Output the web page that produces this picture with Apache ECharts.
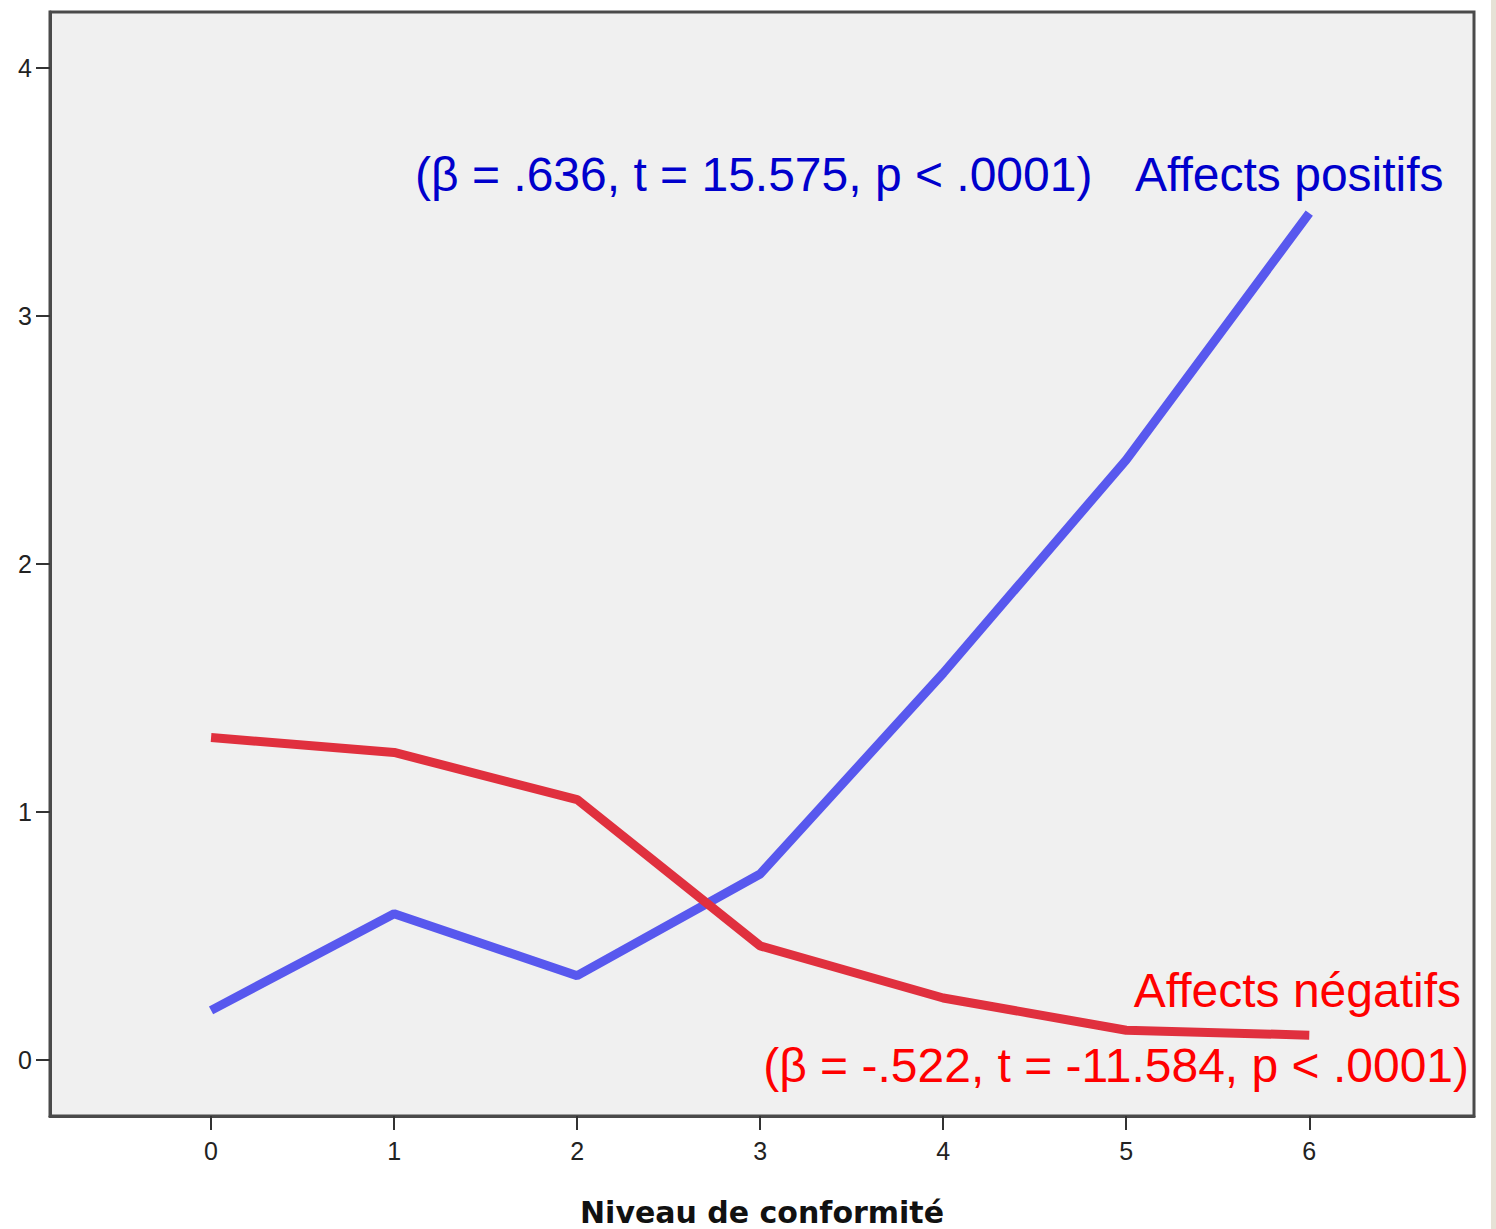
<!DOCTYPE html>
<html>
<head>
<meta charset="utf-8">
<script src="https://cdn.jsdelivr.net/npm/echarts@6/dist/echarts.min.js"></script>
<style>
html,body{margin:0;padding:0;background:#fff;}
#c{width:1496px;height:1229px;}
</style>
</head>
<body>
<div id="c"></div>
<script>
const xValues = [0, 1, 2, 3, 4, 5, 6];
const positifs = [0.20, 0.59, 0.34, 0.75, 1.56, 2.42, 3.415];
const negatifs = [1.30, 1.24, 1.05, 0.46, 0.25, 0.12, 0.10];
const xTicks = [0, 1, 2, 3, 4, 5, 6];
const yTicks = [0, 1, 2, 3, 4];

const chart = echarts.init(document.getElementById('c'), null, {renderer: 'svg'});
const font = '"Liberation Sans", Arial, sans-serif';
chart.setOption({
  animation: false,
  grid: {left: 50, right: 22, top: 12, bottom: 113, outerBoundsMode: 'none', containLabel: false,
         show: true, backgroundColor: '#f0f0f0', borderColor: '#4a4a4a', borderWidth: 3},
  xAxis: {
    type: 'value', min: -0.88, max: 6.9,
    name: 'Niveau de conformité', nameLocation: 'middle', nameGap: 81,
    nameTextStyle: {fontFamily: '"DejaVu Sans", sans-serif', fontWeight: 'bold', fontSize: 30, color: '#111'},
    axisLine: {show: true, onZero: false, lineStyle: {color: '#4a4a4a', width: 3}},
    axisTick: {show: true, length: 14, customValues: xTicks, lineStyle: {color: '#333', width: 2}},
    axisLabel: {customValues: xTicks, fontFamily: font, fontSize: 25, color: '#222', margin: 22},
    splitLine: {show: false}
  },
  yAxis: {
    type: 'value', min: -0.226, max: 4.226,
    axisLine: {show: true, onZero: false, lineStyle: {color: '#4a4a4a', width: 3}},
    axisTick: {show: true, length: 14, customValues: yTicks, lineStyle: {color: '#333', width: 2}},
    axisLabel: {customValues: yTicks, fontFamily: font, fontSize: 25, color: '#222', margin: 18},
    splitLine: {show: false}
  },
  series: [
    {type: 'line', name: 'Affects positifs', data: xValues.map((x, i) => [x, positifs[i]]),
     showSymbol: false, symbol: 'none', lineStyle: {color: '#5858ee', width: 9}},
    {type: 'line', name: 'Affects négatifs', data: xValues.map((x, i) => [x, negatifs[i]]),
     showSymbol: false, symbol: 'none', lineStyle: {color: '#e0303e', width: 9}}
  ],
  graphic: [
    {type: 'rect', right: 0, top: 0, shape: {width: 5, height: 1229}, style: {fill: '#e6e2d6'}},
    {type: 'text', left: 415, top: 150, style: {text: '(β = .636, t = 15.575, p < .0001)', font: '48px ' + font, fill: '#0000cc'}},
    {type: 'text', left: 1135, top: 150, style: {text: 'Affects positifs', font: '48px ' + font, fill: '#0000cc'}},
    {type: 'text', right: 35, top: 966, style: {text: 'Affects négatifs', font: '48px ' + font, fill: '#ff0000'}},
    {type: 'text', right: 27, top: 1041, style: {text: '(β = -.522, t = -11.584, p < .0001)', font: '48px ' + font, fill: '#ff0000'}}
  ]
});
</script>
</body>
</html>
